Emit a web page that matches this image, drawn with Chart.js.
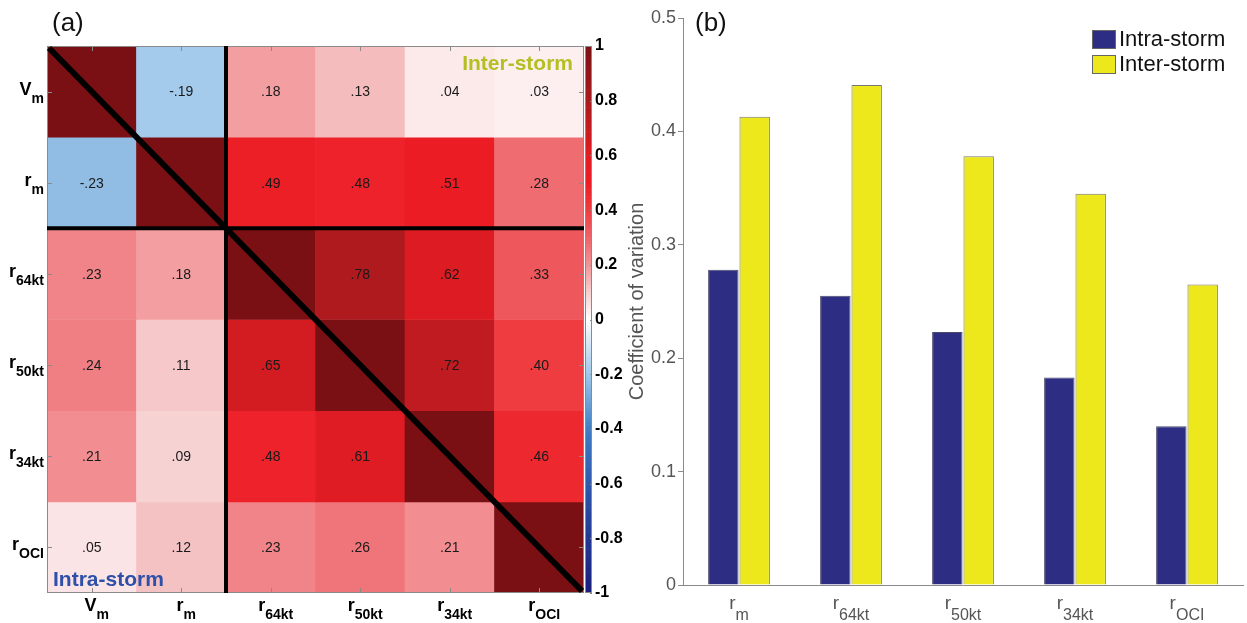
<!DOCTYPE html>
<html>
<head>
<meta charset="utf-8">
<script src="https://cdn.jsdelivr.net/npm/chart.js@4.4.0/dist/chart.umd.min.js"></script>
<style>
  html, body { margin: 0; padding: 0; background: #fff; }
  #wrap { position: relative; width: 1247px; height: 623px; overflow: hidden; }
  canvas { position: absolute; top: 0; }
  #heatChart { left: 0; }
  #cbarChart { left: 575px; }
  #cvChart { left: 600px; }
</style>
</head>
<body>
<div id="wrap">
  <canvas id="heatChart" width="600" height="623"></canvas>
  <canvas id="cbarChart" width="60" height="623"></canvas>
  <canvas id="cvChart" width="647" height="623"></canvas>
</div>
<script>
// ---- panel (a): correlation matrix (upper = inter-storm, lower = intra-storm)
const corrVars = ['Vm', 'rm', 'r64kt', 'r50kt', 'r34kt', 'rOCI'];
const corrVm    = [1, -0.19, 0.18, 0.13, 0.04, 0.03];
const corrRm    = [-0.23, 1, 0.49, 0.48, 0.51, 0.28];
const corrR64kt = [0.23, 0.18, 1, 0.78, 0.62, 0.33];
const corrR50kt = [0.24, 0.11, 0.65, 1, 0.72, 0.40];
const corrR34kt = [0.21, 0.09, 0.48, 0.61, 1, 0.46];
const corrROCI  = [0.05, 0.12, 0.23, 0.26, 0.21, 1];
const corrRows = [corrVm, corrRm, corrR64kt, corrR50kt, corrR34kt, corrROCI];
const cbarTicks = [-1, -0.8, -0.6, -0.4, -0.2, 0, 0.2, 0.4, 0.6, 0.8, 1];

// ---- panel (b): coefficient of variation
const cvVars = ['rm', 'r64kt', 'r50kt', 'r34kt', 'rOCI'];
const intraCV = [0.278, 0.255, 0.223, 0.183, 0.140];
const interCV = [0.413, 0.441, 0.378, 0.345, 0.265];
const cvTicks = [0, 0.1, 0.2, 0.3, 0.4, 0.5];

const FONT = '"Liberation Sans", Arial, Helvetica, sans-serif';

const cmapStops = [
  [-1.0, [25, 30, 125]],
  [-0.7, [40, 72, 162]],
  [-0.4, [62, 126, 196]],
  [-0.2, [160, 200, 235]],
  [0.0, [255, 255, 255]],
  [0.05, [251, 228, 229]],
  [0.1, [246, 206, 207]],
  [0.2, [242, 146, 150]],
  [0.3, [238, 98, 104]],
  [0.4, [239, 60, 64]],
  [0.5, [236, 28, 36]],
  [0.6, [226, 28, 35]],
  [0.7, [196, 27, 32]],
  [0.8, [170, 26, 31]],
  [1.0, [122, 16, 20]]
];

function cmap(v) {
  for (let k = 1; k < cmapStops.length; k++) {
    const [v0, c0] = cmapStops[k - 1];
    const [v1, c1] = cmapStops[k];
    if (v <= v1 || k === cmapStops.length - 1) {
      const t = Math.max(0, Math.min(1, (v - v0) / (v1 - v0)));
      const c = c0.map((ch, n) => Math.round(ch + (c1[n] - ch) * t));
      return `rgb(${c[0]},${c[1]},${c[2]})`;
    }
  }
}

function fmtCorr(v) {
  return v.toFixed(2).replace('0.', '.');
}

// first letter normal, rest as subscript
function drawSubLabel(ctx, name, x, y, o) {
  const main = name.charAt(0), sub = name.slice(1);
  ctx.font = o.mainFont;
  const wm = ctx.measureText(main).width;
  ctx.font = o.subFont;
  const ws = ctx.measureText(sub).width;
  const x0 = o.align === 'right' ? x - wm - ws : x - (wm + ws) / 2;
  ctx.fillStyle = o.color;
  ctx.textAlign = 'left';
  ctx.textBaseline = 'alphabetic';
  ctx.font = o.mainFont;
  ctx.fillText(main, x0, y);
  ctx.font = o.subFont;
  ctx.fillText(sub, x0 + wm, y + o.subDy);
}

const heatDatasets = corrRows.map((row, i) => ({
  label: corrVars[i],
  data: row.map(() => [i, i + 1]),
  backgroundColor: row.map(cmap),
  borderWidth: 0,
  grouped: false,
  barPercentage: 1,
  categoryPercentage: 1
}));

const heatDecor = {
  id: 'heatDecor',
  afterDatasetsDraw(chart) {
    const { ctx, chartArea: a, scales: { x, y } } = chart;
    ctx.save();

    ctx.font = '14px ' + FONT;
    ctx.fillStyle = '#1a1a1a';
    ctx.textAlign = 'center';
    ctx.textBaseline = 'middle';
    corrRows.forEach((row, i) => row.forEach((v, j) => {
      if (i === j) return;
      ctx.fillText(fmtCorr(v), x.getPixelForValue(j), y.getPixelForValue(i + 0.5) + 1);
    }));

    // frame + inward ticks
    ctx.strokeStyle = '#8a8a8a';
    ctx.lineWidth = 1;
    ctx.strokeRect(a.left + 0.5, a.top + 0.5, a.right - a.left - 1, a.bottom - a.top - 1);
    ctx.beginPath();
    corrVars.forEach((_, j) => {
      const px = Math.round(x.getPixelForValue(j)) + 0.5;
      ctx.moveTo(px, a.top); ctx.lineTo(px, a.top + 5);
      ctx.moveTo(px, a.bottom); ctx.lineTo(px, a.bottom - 5);
      const py = Math.round(y.getPixelForValue(j + 0.5)) + 0.5;
      ctx.moveTo(a.left, py); ctx.lineTo(a.left + 5, py);
      ctx.moveTo(a.right, py); ctx.lineTo(a.right - 5, py);
    });
    ctx.stroke();

    // group separators and diagonal
    const xs = (x.getPixelForValue(1) + x.getPixelForValue(2)) / 2;
    const ys = y.getPixelForValue(2);
    ctx.strokeStyle = '#000';
    ctx.lineWidth = 4;
    ctx.beginPath();
    ctx.moveTo(xs, a.top); ctx.lineTo(xs, a.bottom);
    ctx.moveTo(a.left, ys); ctx.lineTo(a.right, ys);
    ctx.stroke();
    ctx.lineWidth = 6;
    ctx.beginPath();
    ctx.moveTo(a.left + 2, a.top + 2);
    ctx.lineTo(a.right - 2, a.bottom - 2);
    ctx.stroke();

    ctx.font = 'bold 21px ' + FONT;
    ctx.textBaseline = 'middle';
    ctx.textAlign = 'right';
    ctx.fillStyle = '#b4bf22';
    ctx.fillText('Inter-storm', a.right - 11, a.top + 18);
    ctx.textAlign = 'left';
    ctx.fillStyle = '#2f50a8';
    ctx.fillText('Intra-storm', a.left + 6, a.bottom - 13);
    ctx.restore();
  },
  afterDraw(chart) {
    const { ctx, chartArea: a, scales: { x, y } } = chart;
    ctx.save();
    const lab = { mainFont: 'bold 18px ' + FONT, subFont: 'bold 14px ' + FONT, color: '#000' };
    corrVars.forEach((name, i) => {
      drawSubLabel(ctx, name, a.left - 3, y.getPixelForValue(i + 0.5) + 3, { ...lab, subDy: 8, align: 'right' });
      drawSubLabel(ctx, name, x.getPixelForValue(i) + 5, 611, { ...lab, subDy: 8, align: 'center' });
    });
    ctx.font = '26px ' + FONT;
    ctx.fillStyle = '#111';
    ctx.textAlign = 'left';
    ctx.textBaseline = 'middle';
    ctx.fillText('(a)', 52, 24);
    ctx.restore();
  }
};

new Chart(document.getElementById('heatChart'), {
  type: 'bar',
  data: { labels: corrVars, datasets: heatDatasets },
  options: {
    responsive: false,
    animation: false,
    events: [],
    layout: { padding: { left: 47, right: 16, top: 46, bottom: 30 } },
    plugins: { legend: { display: false }, tooltip: { enabled: false } },
    scales: {
      x: { type: 'category', display: false },
      y: { type: 'linear', display: false, min: 0, max: 6, reverse: true }
    }
  },
  plugins: [heatDecor]
});

// ---- colorbar
const cbarSteps = 160;
const cbarDatasets = [];
for (let k = 0; k < cbarSteps; k++) {
  const lo = -1 + 2 * k / cbarSteps;
  const hi = -1 + 2 * (k + 1) / cbarSteps;
  cbarDatasets.push({
    data: [[lo, hi]],
    backgroundColor: cmap((lo + hi) / 2),
    borderWidth: 0,
    grouped: false,
    barPercentage: 1,
    categoryPercentage: 1
  });
}

const cbarFrame = {
  id: 'cbarFrame',
  afterDatasetsDraw(chart) {
    const { ctx, chartArea: a, scales: { y } } = chart;
    ctx.save();
    ctx.strokeStyle = '#8a8a8a';
    ctx.lineWidth = 1;
    ctx.strokeRect(a.left + 0.5, a.top + 0.5, a.right - a.left - 1, a.bottom - a.top - 1);
    ctx.beginPath();
    cbarTicks.forEach(v => {
      const py = Math.round(y.getPixelForValue(v)) + 0.5;
      ctx.moveTo(a.right, py); ctx.lineTo(a.right - 2, py);
    });
    ctx.stroke();
    ctx.restore();
  }
};

new Chart(document.getElementById('cbarChart'), {
  type: 'bar',
  data: { labels: ['cbar'], datasets: cbarDatasets },
  options: {
    responsive: false,
    animation: false,
    events: [],
    layout: { padding: { left: 10, right: 0, top: 46, bottom: 30 } },
    plugins: { legend: { display: false }, tooltip: { enabled: false } },
    scales: {
      x: { type: 'category', display: false },
      y: {
        type: 'linear',
        position: 'right',
        min: -1,
        max: 1,
        afterBuildTicks: s => { s.ticks = cbarTicks.map(v => ({ value: v })); },
        afterFit: s => { s.width = 43; },
        grid: { display: false, drawTicks: false },
        border: { display: false },
        ticks: {
          padding: 3,
          color: '#000',
          font: { family: FONT, size: 16, weight: 'bold' },
          callback: v => String(Math.round(v * 10) / 10)
        }
      }
    }
  },
  plugins: [cbarFrame]
});

// ---- panel (b)
const cvDecor = {
  id: 'cvDecor',
  afterDraw(chart) {
    const { ctx, chartArea: a, scales: { x } } = chart;
    ctx.save();
    cvVars.forEach((name, k) => {
      drawSubLabel(ctx, name, x.getPixelForValue(k), 609, {
        mainFont: '19px ' + FONT, subFont: '16px ' + FONT, color: '#555', subDy: 11, align: 'center'
      });
    });

    ctx.font = '22px ' + FONT;
    ctx.textAlign = 'left';
    ctx.textBaseline = 'middle';
    chart.data.datasets.forEach((ds, k) => {
      const bx = a.right - 151, by = 30 + k * 25;
      ctx.fillStyle = ds.backgroundColor;
      ctx.fillRect(bx, by, 24, 19);
      ctx.strokeStyle = '#666';
      ctx.lineWidth = 1;
      ctx.strokeRect(bx + 0.5, by + 0.5, 23, 18);
      ctx.fillStyle = '#111';
      ctx.fillText(ds.label, bx + 27, by + 10);
    });

    ctx.font = '26px ' + FONT;
    ctx.fillStyle = '#111';
    ctx.fillText('(b)', a.left + 12, 24);
    ctx.restore();
  }
};

new Chart(document.getElementById('cvChart'), {
  type: 'bar',
  data: {
    labels: cvVars,
    datasets: [
      { label: 'Intra-storm', data: intraCV, backgroundColor: '#2e2d84', borderColor: '#4a4a6a', borderWidth: 1 },
      { label: 'Inter-storm', data: interCV, backgroundColor: '#ede81b', borderColor: '#777', borderWidth: 1 }
    ]
  },
  options: {
    responsive: false,
    animation: false,
    events: [],
    categoryPercentage: 0.56,
    barPercentage: 0.97,
    layout: { padding: { left: 0, right: 4, top: 18, bottom: 0 } },
    plugins: { legend: { display: false }, tooltip: { enabled: false } },
    scales: {
      x: {
        type: 'category',
        afterFit: s => { s.height = 38; },
        grid: { drawOnChartArea: false, drawTicks: false },
        border: { color: '#8a8a8a', width: 1 },
        ticks: { display: false }
      },
      y: {
        type: 'linear',
        min: 0,
        max: 0.5,
        afterBuildTicks: s => { s.ticks = cvTicks.map(v => ({ value: v })); },
        afterFit: s => { s.width = 83; },
        grid: { drawOnChartArea: false, drawTicks: true, tickLength: 5, color: '#8a8a8a' },
        border: { color: '#8a8a8a', width: 1 },
        ticks: { padding: 2, color: '#555', font: { family: FONT, size: 18 } },
        title: {
          display: true,
          text: 'Coefficient of variation',
          color: '#555',
          font: { family: FONT, size: 20 },
          padding: { top: 25, bottom: 0 }
        }
      }
    }
  },
  plugins: [cvDecor]
});
</script>
</body>
</html>
